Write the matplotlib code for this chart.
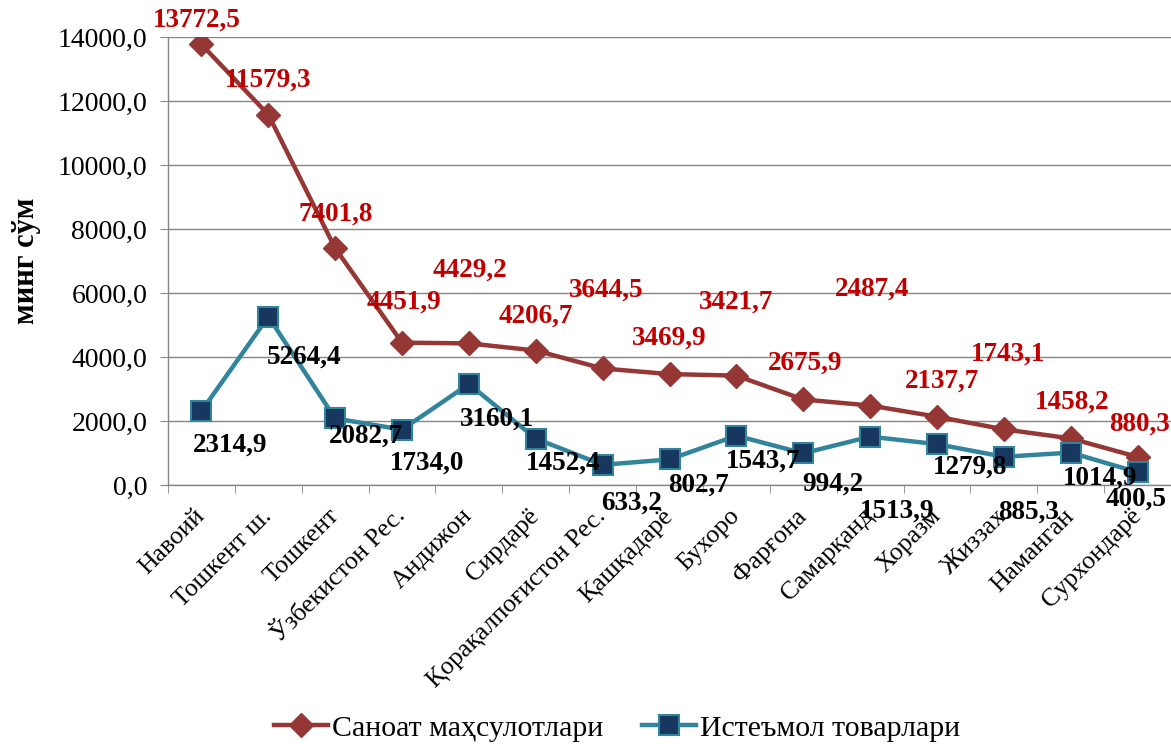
import matplotlib.pyplot as plt
import numpy as np
from matplotlib.ticker import FixedLocator, FuncFormatter

plt.rcParams['font.family'] = ['Liberation Serif', 'DejaVu Serif']

regions = ['Навоий', 'Тошкент ш.', 'Тошкент', 'Ўзбекистон Рес.', 'Андижон',
           'Сирдарё', 'Қорақалпоғистон Рес.', 'Қашқадарё', 'Бухоро', 'Фарғона',
           'Самарқанд', 'Хоразм', 'Жиззах', 'Наманган', 'Сурхондарё']
industry = [13772.5, 11579.3, 7401.8, 4451.9, 4429.2, 4206.7, 3644.5, 3469.9,
            3421.7, 2675.9, 2487.4, 2137.7, 1743.1, 1458.2, 880.3]
consumer = [2314.9, 5264.4, 2082.7, 1734.0, 3160.1, 1452.4, 633.2, 802.7,
            1543.7, 994.2, 1513.9, 1279.8, 885.3, 1014.9, 400.5]

# label offsets in pixels (dx, dy), y up
red_off = [(-5, 24), (0, 34), (0, 34), (2, 40), (1, 73), (0, 34), (4, 78), (0, 36),
           (0, 73), (2, 36), (2, 116), (5, 36), (4, 75), (1, 36), (2, 33)]
blk_off = [(29, -34), (36, -41), (31, -18), (25, -34), (28, -35), (27, -25), (29, -38),
           (29, -26), (27, -25), (30, -31), (27, -75), (33, -23), (25, -55), (29, -26), (-1, -27)]


def fmt(v):
    return f'{v:.1f}'.replace('.', ',')


fig = plt.figure(figsize=(11.71, 7.44), dpi=100)
ax = fig.add_axes([0.1435, 0.348, 0.8565, 0.602])

x = np.arange(len(regions))
red = '#953735'
teal = '#31849B'
ax.plot(x, industry, color=red, lw=3.2, marker='D', ms=12, mfc=red, mec=red,
        label='Саноат маҳсулотлари', zorder=3)
ax.plot(x, consumer, color=teal, lw=3.2, marker='s', ms=14, mfc='#17375E', mec=teal,
        mew=1.5, label='Истеъмол товарлари', zorder=3)

for i in range(len(regions)):
    ax.annotate(fmt(industry[i]), (x[i], industry[i]), xytext=red_off[i],
                textcoords='offset pixels', ha='center', va='center',
                color='#C00000', fontsize=19.5, fontweight='bold', zorder=4)
    ax.annotate(fmt(consumer[i]), (x[i], consumer[i]), xytext=blk_off[i],
                textcoords='offset pixels', ha='center', va='center',
                color='black', fontsize=19.5, fontweight='bold', zorder=4)

ax.set_xlim(-0.5, len(regions) - 0.5)
ax.set_ylim(0, 14000)
ax.set_yticks(np.arange(0, 14001, 2000))
ax.yaxis.set_major_formatter(FuncFormatter(lambda v, p: fmt(v)))
ax.set_xticks(x)
ax.set_xticklabels(regions, rotation=45, ha='right', va='center',
                   rotation_mode='anchor', fontsize=18.5)
ax.xaxis.set_minor_locator(FixedLocator(np.arange(-0.5, len(regions), 1)))
ax.tick_params(axis='x', which='major', length=0, pad=20)
ax.tick_params(axis='x', which='minor', length=6, color='#868686', direction='out')
ax.tick_params(axis='y', labelsize=20, length=6, color='#868686', direction='out', pad=9)

ax.grid(axis='y', color='#868686', lw=1)
ax.set_axisbelow(True)
for s in ['top', 'right']:
    ax.spines[s].set_visible(False)
for s in ['left', 'bottom']:
    ax.spines[s].set_color('#868686')
    ax.spines[s].set_linewidth(1)

ax.set_ylabel('минг сўм', fontsize=22, fontweight='bold', labelpad=12)

fig.legend(loc='lower center', bbox_to_anchor=(0.527, -0.033), ncol=2, frameon=False,
           fontsize=21.5, handlelength=1.8, columnspacing=1.3, handletextpad=0.15)

fig.savefig('out.png', dpi=100)
